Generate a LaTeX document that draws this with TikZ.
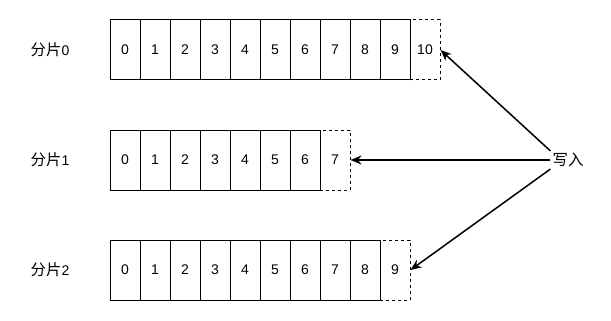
\documentclass[tikz,border=0pt]{standalone}
\usepackage{fontspec}
\setmainfont{Liberation Sans}
\newfontfamily\cjk[Scale=1.1]{Noto Sans CJK SC}
\usetikzlibrary{arrows.meta}

\begin{document}
\begin{tikzpicture}[x=1pt, y=-1pt,
        cell/.style={draw, line width=1pt, minimum width=30pt, minimum height=60pt, inner sep=0pt, font=\fontsize{14}{16}\selectfont},
        newcell/.style={cell, dash pattern=on 3pt off 3pt},
        shardname/.style={inner sep=2pt, font=\fontsize{14}{16}\selectfont},
        writearrow/.style={-{Stealth[length=11pt, width=9pt]}, line width=1.5pt}]
    \useasboundingbox (0,0) rectangle (611,321);
        % shard 0
            \node[shardname] (s0) at (50,50) {{\cjk 分片}0};
            \foreach \i in {0,...,9}
                \node[cell] (a\i) at (125+30*\i,50) {\i};
            \node[newcell] (a10) at (425,50) {10};
        % shard 1
            \node[shardname] (s1) at (50,160) {{\cjk 分片}1};
            \foreach \i in {0,...,6}
                \node[cell] (b\i) at (125+30*\i,160) {\i};
            \node[newcell] (b7) at (335,160) {7};
        % shard 2
            \node[shardname] (s2) at (50,270) {{\cjk 分片}2};
            \foreach \i in {0,...,8}
                \node[cell] (c\i) at (125+30*\i,270) {\i};
            \node[newcell] (c9) at (395,270) {9};
        % writes
            \node[shardname] (w) at (568,160) {\cjk 写入};
            \draw[writearrow] (w.north west) -- (a10.east);
            \draw[writearrow] (w.west) -- (b7.east);
            \draw[writearrow] (w.south west) -- (c9.east);
\end{tikzpicture}
\end{document}
